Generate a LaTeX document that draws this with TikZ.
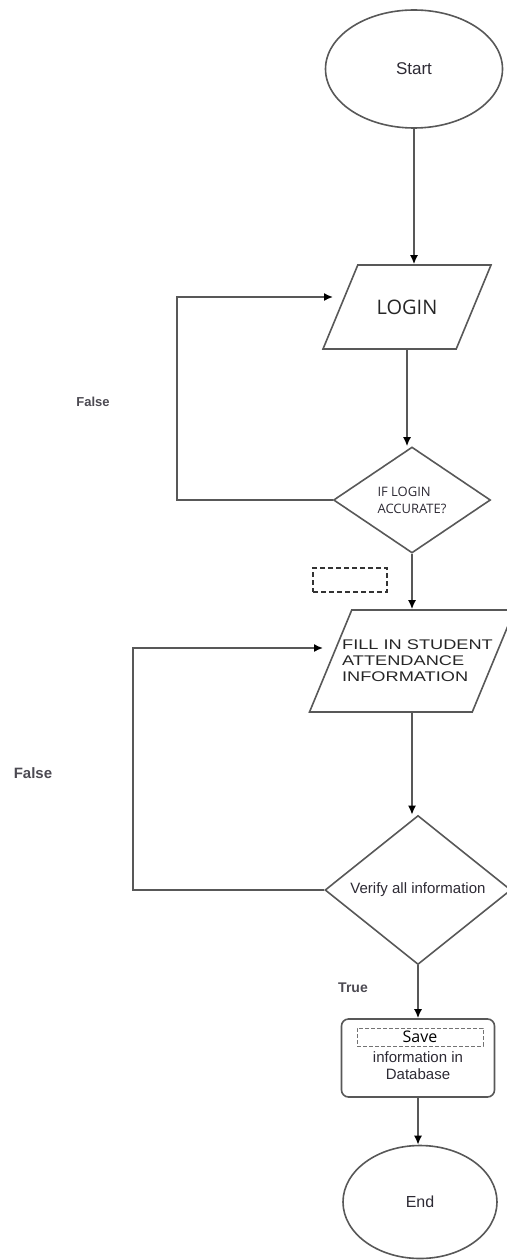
\documentclass[tikz,border=0pt]{standalone}
\usepackage{fontspec}
\setmainfont{Liberation Sans}
\newfontfamily\opensans{Open Sans}
\newfontfamily\widesans[FakeStretch=1.3]{Liberation Sans}
\usetikzlibrary{shapes.geometric, arrows.meta}
\definecolor{linegray}{RGB}{88,88,88}
\definecolor{inkgray}{RGB}{45,42,52}

\begin{document}
\begin{tikzpicture}[x=1pt, y=-1pt,
	line/.style={draw=linegray, line width=1.6pt},
	flow/.style={line, -{Latex[length=9pt, width=8pt, color=black]}},
	terminal/.style={ellipse, line, inner sep=0pt, text=inkgray},
	io/.style={trapezium, trapezium left angle=67.5, trapezium right angle=112.5,
		trapezium stretches body, line, inner xsep=0pt, text=black!85},
	decision/.style={diamond, line, inner sep=0pt, text=inkgray},
	process/.style={rectangle, rounded corners=7pt, line},
	dashed box/.style={rectangle, draw=black!80, dash pattern=on 5pt off 3pt, line width=1.3pt, inner sep=0pt},
	note/.style={font=\bfseries, text=inkgray!85}]
	\useasboundingbox (0,0) rectangle (506,1260);

	\node[terminal, minimum width=177pt, minimum height=118pt, font=\fontsize{17}{20}\selectfont] (start) at (414,69) {Start};
	\node[io, minimum width=168pt, text height=14pt, text depth=0pt, inner ysep=35pt, font=\opensans\fontsize{20}{24}\selectfont] (login) at (407,307) {LOGIN};
	\node[decision, minimum width=157pt, minimum height=106pt, align=left, font=\opensans\fontsize{13}{17}\selectfont] (check) at (412,500) {IF LOGIN\\ACCURATE?};
	\node[dashed box, minimum width=74pt, minimum height=24pt] (blank) at (350,580) {};
	\node[io, minimum width=205pt, text height=0pt, text depth=0pt, inner ysep=51pt] (fill) at (412,661) {};
	\node[align=left, text=black!85, inner sep=0pt, font=\widesans\fontsize{14}{16}\selectfont] (filltext) at (417.5,661) {FILL IN STUDENT\\ATTENDANCE\\INFORMATION};
	\node[decision, minimum width=186pt, minimum height=126pt, font=\fontsize{15}{18}\selectfont] (verify) at (418,890) {Verify all information};
	\node[process, minimum width=153pt, minimum height=78pt] (save) at (418,1058) {};
	\node[dashed box, draw=black!55, dash pattern=on 4pt off 2pt, line width=0.7pt, minimum width=126pt, minimum height=18pt, font=\opensans\fontsize{16}{18}\selectfont] (savehead) at (420,1037) {Save};
	\node[align=center, text=inkgray, font=\fontsize{15}{17}\selectfont] (savebody) at (418,1066) {information in\\Database};
	\node[terminal, minimum width=154pt, minimum height=113pt, font=\fontsize{16}{19}\selectfont] (end) at (420,1202) {End};

	\node[note, font=\bfseries\fontsize{13}{15}\selectfont] (false1) at (93,402) {False};
	\node[note, font=\bfseries\fontsize{15}{17}\selectfont] (false2) at (33,773) {False};
	\node[note, font=\bfseries\fontsize{14}{16}\selectfont] (true) at (353,988) {True};

	\coordinate (back1) at (177,297);
	\coordinate (tip1) at (333,297);
	\coordinate (back2) at (133,648);
	\coordinate (tip2) at (323,648);

	\draw[flow] (start.south) -- (start.south |- login.north);
	\draw[flow] (login.south) -- (login.south |- check.north);
	\draw[flow] (check.south) -- (check.south |- fill.north);
	\draw[flow] (fill.south) -- (fill.south |- verify.north);
	\draw[flow] (verify.south) -- (save.north);
	\draw[flow] (save.south) -- (save.south |- end.north);
	\draw[flow] (check.west) -| (back1) -- (tip1);
	\draw[flow] (verify.west) -| (back2) -- (tip2);
\end{tikzpicture}
\end{document}
